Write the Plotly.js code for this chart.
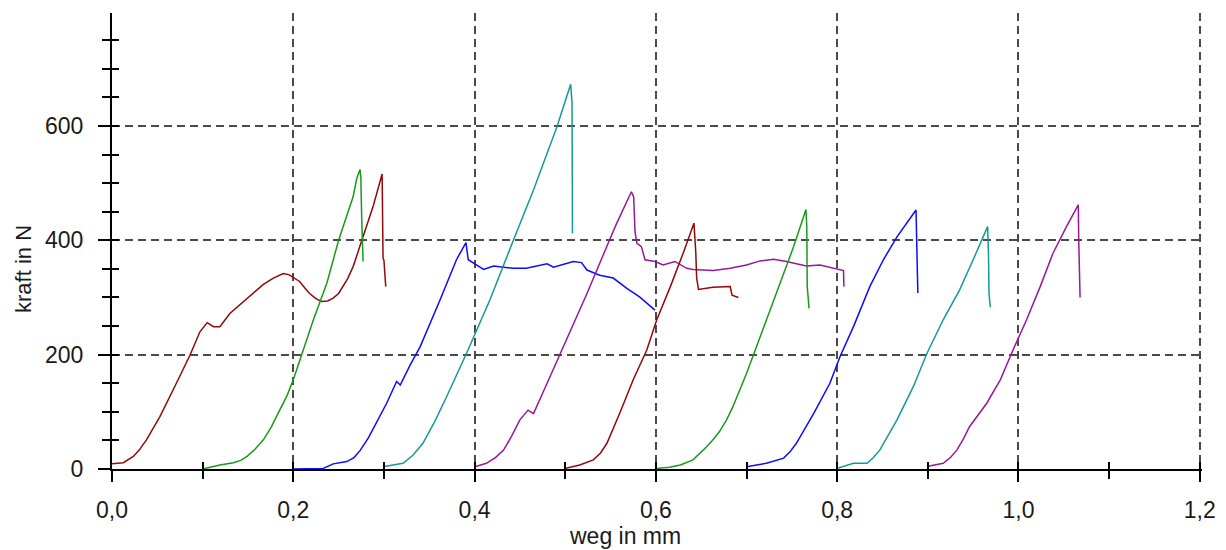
<!DOCTYPE html>
<html>
<head>
<meta charset="utf-8">
<script src="https://cdn.plot.ly/plotly-3.0.1.min.js"></script>
<style>html,body{margin:0;padding:0;background:#fff;}#chart{width:1226px;height:550px;}</style>
</head>
<body>
<div id="chart"></div>
<script>
// weg in mm (x) and kraft in N (y) for each probe
const weg1 = [0.0, 0.0125, 0.0235, 0.030, 0.038, 0.053, 0.071, 0.086, 0.097, 0.105, 0.112, 0.119, 0.130, 0.149, 0.167, 0.178, 0.189, 0.195, 0.200, 0.207, 0.213, 0.218, 0.225, 0.231, 0.238, 0.244, 0.250, 0.255, 0.260, 0.266, 0.277, 0.288, 0.298, 0.2985, 0.299, 0.300, 0.302];
const kraft1 = [9, 11, 22, 33, 51, 92, 150, 199, 240, 256, 249, 249, 272, 298, 323, 334, 342, 340, 335, 328, 316, 307, 298, 293, 294, 299, 307, 319, 333, 354, 406, 459, 516, 476, 369, 365, 319];

const weg2 = [0.1, 0.119, 0.134, 0.142, 0.149, 0.158, 0.167, 0.176, 0.185, 0.193, 0.200, 0.211, 0.222, 0.237, 0.250, 0.266, 0.270, 0.2736, 0.2745, 0.2755, 0.277];
const kraft2 = [0, 7, 11, 15, 22, 35, 51, 74, 103, 128, 156, 208, 260, 325, 400, 476, 508, 524, 511, 436, 363];

const weg3 = [0.2, 0.233, 0.244, 0.259, 0.267, 0.274, 0.283, 0.292, 0.303, 0.314, 0.318, 0.329, 0.340, 0.362, 0.380, 0.3905, 0.393, 0.402, 0.410, 0.421, 0.443, 0.457, 0.480, 0.487, 0.509, 0.518, 0.524, 0.538, 0.553, 0.568, 0.582, 0.599];
const kraft3 = [0, 1, 9, 13, 20, 33, 55, 82, 115, 153, 147, 182, 214, 296, 366, 396, 366, 357, 349, 355, 351, 351, 359, 353, 363, 361, 348, 339, 334, 316, 301, 278];

const weg4 = [0.299, 0.310, 0.321, 0.332, 0.343, 0.356, 0.369, 0.391, 0.417, 0.443, 0.465, 0.491, 0.506, 0.5075, 0.5075, 0.508];
const kraft4 = [4, 7, 10, 24, 45, 83, 126, 202, 296, 401, 488, 599, 673, 640, 529, 412];

const weg5 = [0.4004, 0.413, 0.423, 0.432, 0.441, 0.450, 0.459, 0.465, 0.480, 0.498, 0.524, 0.549, 0.556, 0.573, 0.5755, 0.577, 0.579, 0.584, 0.588, 0.599, 0.608, 0.621, 0.634, 0.641, 0.663, 0.682, 0.700, 0.715, 0.730, 0.744, 0.766, 0.781, 0.799, 0.807, 0.8075];
const kraft5 = [4, 10, 20, 33, 58, 86, 103, 97, 150, 214, 307, 401, 427, 485, 476, 415, 395, 389, 366, 363, 357, 363, 351, 349, 347, 351, 357, 364, 367, 363, 355, 357, 351, 347, 319];

const weg6 = [0.4997, 0.516, 0.531, 0.539, 0.546, 0.553, 0.560, 0.575, 0.590, 0.601, 0.616, 0.630, 0.642, 0.644, 0.645, 0.647, 0.663, 0.682, 0.684, 0.691];
const kraft6 = [1, 7, 16, 28, 45, 70, 97, 156, 208, 261, 319, 377, 430, 380, 334, 314, 318, 319, 304, 300];

const weg7 = [0.601, 0.615, 0.627, 0.641, 0.656, 0.663, 0.670, 0.678, 0.685, 0.692, 0.700, 0.711, 0.722, 0.737, 0.752, 0.7656, 0.7665, 0.767, 0.769];
const kraft7 = [1, 3, 7, 16, 39, 51, 65, 86, 109, 136, 167, 214, 261, 325, 389, 454, 424, 319, 281];

const weg8 = [0.700, 0.722, 0.741, 0.748, 0.755, 0.764, 0.774, 0.792, 0.803, 0.818, 0.836, 0.851, 0.866, 0.887, 0.8875, 0.888, 0.889];
const kraft8 = [4, 10, 19, 30, 45, 70, 97, 150, 196, 249, 319, 366, 406, 453, 400, 331, 308];

const weg9 = [0.7995, 0.818, 0.833, 0.840, 0.847, 0.856, 0.866, 0.884, 0.899, 0.917, 0.935, 0.950, 0.966, 0.967, 0.9675, 0.969];
const kraft9 = [1, 10, 10, 20, 33, 58, 86, 144, 202, 261, 313, 366, 424, 371, 307, 283];

const weg10 = [0.9005, 0.917, 0.925, 0.932, 0.939, 0.946, 0.965, 0.980, 0.994, 1.009, 1.024, 1.038, 1.053, 1.066, 1.0665, 1.068];
const kraft10 = [5, 10, 20, 33, 52, 74, 115, 156, 208, 261, 319, 377, 424, 462, 401, 300];

const colors = ['#930808', '#1a9a1a', '#0c0cff', '#149999', '#981898', '#930808', '#1a9a1a', '#0c0cff', '#149999', '#981898'];
const series = [[weg1, kraft1], [weg2, kraft2], [weg3, kraft3], [weg4, kraft4], [weg5, kraft5],
                [weg6, kraft6], [weg7, kraft7], [weg8, kraft8], [weg9, kraft9], [weg10, kraft10]];

const traces = series.map((s, i) => ({
  x: s[0], y: s[1], type: 'scatter', mode: 'lines',
  line: {color: colors[i], width: 1.5},
  showlegend: false, hoverinfo: 'skip'
}));
// empty trace so the overlay axes (inside tick halves) are drawn
traces.push({x: [], y: [], xaxis: 'x2', yaxis: 'y2', type: 'scatter', mode: 'lines', showlegend: false});

const family = 'Liberation Sans, Arial, sans-serif';
const font = {family: family, size: 23, color: '#1a1a1a'};
const xr = [0, 1.2025], yr = [0, 797.6];

const layout = {
  width: 1226, height: 550,
  margin: {l: 112, r: 24, t: 13, b: 81},
  paper_bgcolor: '#ffffff', plot_bgcolor: '#ffffff',
  separators: ',.',
  font: font,
  showlegend: false,
  xaxis: {
    range: xr, dtick: 0.2, tick0: 0, tickformat: '.1f',
    showline: true, linecolor: '#000', linewidth: 2,
    ticks: 'outside', ticklen: 11, tickwidth: 2, tickcolor: '#000',
    ticklabelstandoff: 8,
    minor: {dtick: 0.1, ticks: 'outside', ticklen: 8, tickwidth: 2, tickcolor: '#000', showgrid: false},
    showgrid: true, gridcolor: '#4a4a4a', gridwidth: 2, griddash: '8px,5px',
    zeroline: false, tickfont: font
  },
  yaxis: {
    range: yr, dtick: 200, tick0: 0,
    showline: true, linecolor: '#000', linewidth: 2,
    ticks: 'outside', ticklen: 12, tickwidth: 2, tickcolor: '#000',
    ticklabelstandoff: 10,
    minor: {dtick: 50, ticks: 'outside', ticklen: 8, tickwidth: 2, tickcolor: '#000', showgrid: false},
    showgrid: true, gridcolor: '#4a4a4a', gridwidth: 2, griddash: '8px,5px',
    zeroline: false, tickfont: font
  },
  xaxis2: {
    overlaying: 'x', anchor: 'y', side: 'bottom', range: xr,
    dtick: 0.1, tick0: 0, ticks: 'inside', ticklen: 7, tickwidth: 2, tickcolor: '#000',
    showticklabels: false, showgrid: false, zeroline: false, showline: false
  },
  yaxis2: {
    overlaying: 'y', anchor: 'x', side: 'left', range: yr,
    dtick: 50, tick0: 0, ticks: 'inside', ticklen: 7, tickwidth: 2, tickcolor: '#000',
    showticklabels: false, showgrid: false, zeroline: false, showline: false
  },
  annotations: [
    {text: 'weg in mm', xref: 'paper', yref: 'paper', x: 0.4706, y: -0.1469,
     xanchor: 'center', yanchor: 'middle', showarrow: false, font: {family: family, size: 23, color: '#1a1a1a'}},
    {text: 'kraft in N', xref: 'paper', yref: 'paper', x: 0, y: 0.4386, xshift: -88,
     xanchor: 'center', yanchor: 'middle', textangle: -90, showarrow: false, font: {family: family, size: 22, color: '#1a1a1a'}}
  ]
};

Plotly.newPlot('chart', traces, layout, {staticPlot: true, displayModeBar: false});
</script>
</body>
</html>
